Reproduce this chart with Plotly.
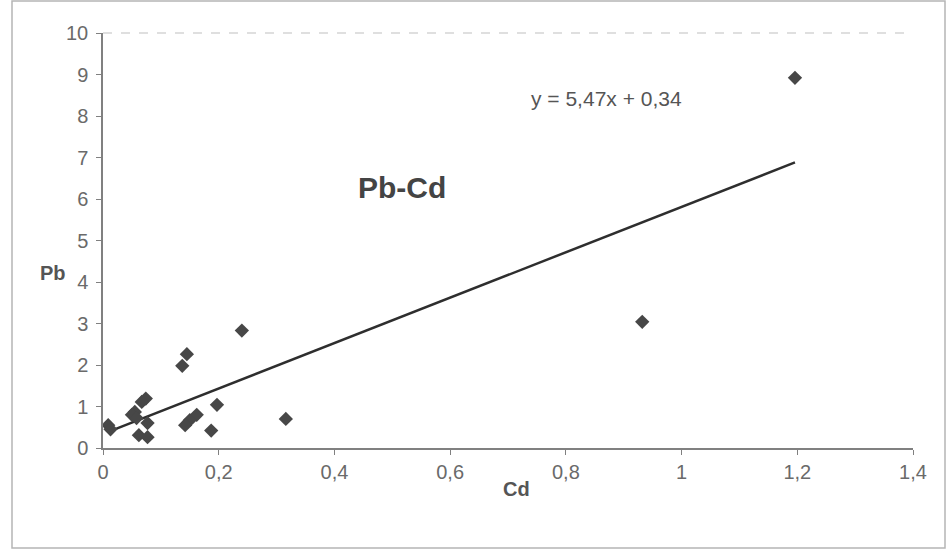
import plotly.graph_objects as go

# Data (Cd vs Pb)
cd = [0.240, 0.145, 0.137, 0.074, 0.067, 0.055, 0.050, 0.058, 0.077, 0.009,
      0.013, 0.062, 0.077, 0.197, 0.162, 0.150, 0.142, 0.187, 0.316, 0.932, 1.196]
pb = [2.83, 2.26, 1.98, 1.19, 1.11, 0.87, 0.80, 0.72, 0.60, 0.55,
      0.45, 0.31, 0.26, 1.04, 0.80, 0.67, 0.55, 0.42, 0.70, 3.04, 8.92]

slope = 5.47
intercept = 0.34
x_ticks = [0, 0.2, 0.4, 0.6, 0.8, 1.0, 1.2, 1.4]
x_tick_labels = ["0", "0,2", "0,4", "0,6", "0,8", "1", "1,2", "1,4"]
y_ticks = list(range(0, 11))

xmin, xmax = min(cd), max(cd)
line_x = [xmin, xmax]
line_y = [slope * v + intercept for v in line_x]

FONT = "Liberation Sans, Arial, sans-serif"

fig = go.Figure()
fig.add_trace(go.Scatter(x=line_x, y=line_y, mode="lines",
                         line=dict(color="#2e2e2e", width=2.5), hoverinfo="skip"))
fig.add_trace(go.Scatter(x=cd, y=pb, mode="markers",
                         marker=dict(symbol="diamond", size=11, color="#474747",
                                     line=dict(width=0))))

W, H = 947, 551
L, R, T, B = 103, 34, 33, 103
pw, ph = W - L - R, H - T - B

def px(x):
    return (x - L) / pw

def py(y):
    return (H - B - y) / ph

fig.update_layout(
    width=W, height=H,
    margin=dict(l=L, r=R, t=T, b=B),
    paper_bgcolor="white", plot_bgcolor="white",
    showlegend=False,
    font=dict(family=FONT, color="#6a6a6a", size=20),
    xaxis=dict(range=[0, 1.4], tickvals=x_ticks, ticktext=x_tick_labels,
               showgrid=False, zeroline=False, showline=True, linecolor="#808080",
               linewidth=1.5, ticks="outside", ticklen=5, tickcolor="#808080",
               tickfont=dict(size=20, color="#6a6a6a")),
    yaxis=dict(range=[0, 10], tickvals=y_ticks,
               showgrid=False, zeroline=False, showline=True, linecolor="#808080",
               linewidth=1.5, ticks="outside", ticklen=5, tickcolor="#808080",
               ticklabelstandoff=4,
               tickfont=dict(size=20, color="#6a6a6a")),
    annotations=[
        dict(x=0.871, y=8.43, xref="x", yref="y", text="y = 5,47x + 0,34",
             xanchor="center", yanchor="middle",
             showarrow=False, font=dict(size=21, color="#555555")),
        dict(x=0.517, y=6.27, xref="x", yref="y", text="<b>Pb-Cd</b>",
             xanchor="center", yanchor="middle",
             showarrow=False, font=dict(size=30, color="#444444")),
        dict(x=px(53), y=py(273), xref="paper", yref="paper", text="<b>Pb</b>",
             xanchor="center", yanchor="middle",
             showarrow=False, font=dict(size=20, color="#555555")),
        dict(x=px(516), y=py(489), xref="paper", yref="paper", text="<b>Cd</b>",
             xanchor="center", yanchor="middle",
             showarrow=False, font=dict(size=20, color="#555555")),
    ],
    shapes=[
        dict(type="line", xref="paper", yref="paper", x0=0, x1=1.0, y0=1, y1=1,
             line=dict(color="#d5d5d5", width=1.5, dash="dash")),
        dict(type="rect", xref="paper", yref="paper",
             x0=px(12), x1=px(945), y0=py(548), y1=py(1),
             line=dict(color="#b5b5b5", width=1.5)),
    ],
)

fig.write_html("out.html", config={"displayModeBar": False})

# remove default page margin so the figure sits at the window origin
with open("out.html", "r", encoding="utf-8") as f:
    html = f.read()
html = html.replace("<head>", "<head><style>html,body{margin:0;padding:0;overflow:hidden;}</style>", 1)
with open("out.html", "w", encoding="utf-8") as f:
    f.write(html)
